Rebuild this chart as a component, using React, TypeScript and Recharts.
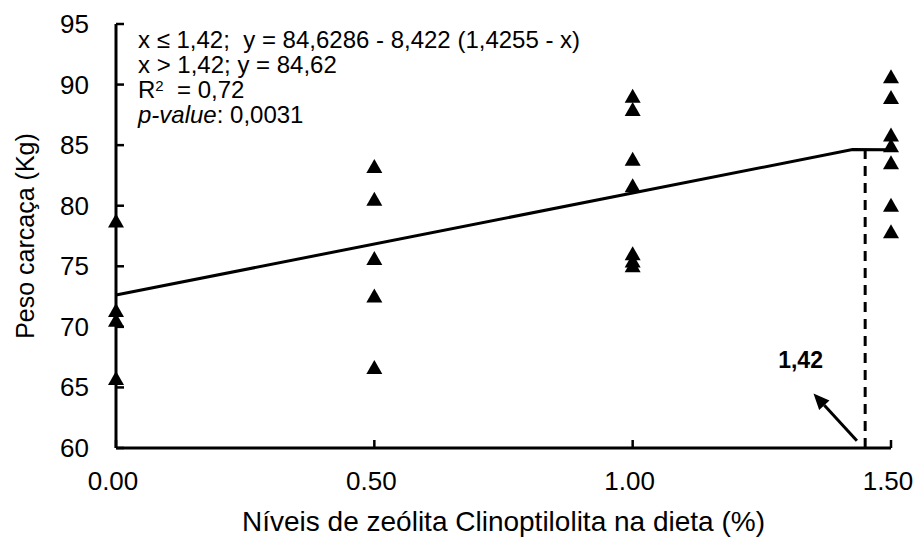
import React from 'react';
import {
  ComposedChart,
  Scatter,
  XAxis,
  YAxis,
  ReferenceLine,
  ReferenceDot,
} from 'recharts';

// níveis de zeólita (%) e pesos de carcaça observados (Kg)
const niveis = [0, 0.5, 1.0, 1.5];
const peso000 = [78.7, 71.3, 70.5, 65.7];
const peso050 = [83.2, 80.5, 75.6, 72.5, 66.6];
const peso100 = [89.0, 87.9, 83.8, 81.6, 76.0, 75.4, 75.0];
const peso150 = [90.6, 88.9, 85.8, 84.9, 83.5, 80.0, 77.8];

// modelo linear-plateau
const ajusteX = [0, 1.4255, 1.5];
const ajusteY = [72.63, 84.63, 84.62];

const corteX = 1.45;
const corteY = [60, 84.62];
const setaX = [1.434, 1.35];
const setaY = [60.6, 64.5];
const rotuloCorte = '1,42';
const rotuloX = 1.325;
const rotuloY = 67.3;

const xTicks = [0, 0.5, 1.0, 1.5];
const yTicks = [60, 65, 70, 75, 80, 85, 90, 95];

const pontos = [peso000, peso050, peso100, peso150].flatMap((vals, i) =>
  vals.map((y) => ({ x: niveis[i], y }))
);
const ajuste = ajusteX.map((x, i) => ({ x, y: ajusteY[i] }));

const FONT = '"Liberation Sans", Arial, sans-serif';

const YTick = ({ x, y, payload }: any) => (
  <g>
    <line x1={x} x2={x + 8} y1={y} y2={y} stroke="#000" strokeWidth={2.5} />
    <text x={x - 27} y={y} dy={9} textAnchor="end" fontSize={26} fill="#000" fontFamily={FONT}>
      {payload.value}
    </text>
  </g>
);

const XTick = ({ x, y, payload }: any) => (
  <g>
    <line x1={x} x2={x} y1={y} y2={y - 8} stroke="#000" strokeWidth={2.5} />
    <text x={x - 3} y={y + 42} textAnchor="middle" fontSize={26} fill="#000" fontFamily={FONT}>
      {Number(payload.value).toFixed(2)}
    </text>
  </g>
);

const Triangulo = ({ cx, cy }: any) => (
  <polygon points={`${cx},${cy - 8} ${cx - 8},${cy + 6} ${cx + 8},${cy + 6}`} fill="#000" />
);

const Seta = ({ x1, y1, x2, y2 }: any) => {
  const ang = Math.atan2(y2 - y1, x2 - x1);
  const len = 16;
  const half = 7;
  const bx = x2 - len * Math.cos(ang);
  const by = y2 - len * Math.sin(ang);
  const px = -Math.sin(ang) * half;
  const py = Math.cos(ang) * half;
  return (
    <g>
      <line x1={x1} y1={y1} x2={bx} y2={by} stroke="#000" strokeWidth={3} />
      <polygon points={`${x2},${y2} ${bx + px},${by + py} ${bx - px},${by - py}`} fill="#000" />
    </g>
  );
};

const Rotulo = ({ cx, cy }: any) => (
  <text x={cx} y={cy} dy={8} textAnchor="middle" fontSize={23} fontWeight="bold" fill="#000" fontFamily={FONT}>
    {rotuloCorte}
  </text>
);

export default function App() {
  return (
    <div style={{ position: 'absolute', left: 0, top: 0, width: 924, height: 540, background: '#fff', fontFamily: FONT }}>
      <ComposedChart width={924} height={540} margin={{ top: 24, right: 33, bottom: 0, left: 0 }}>
        <XAxis
          type="number"
          dataKey="x"
          domain={[0, 1.5]}
          ticks={xTicks}
          interval={0}
          height={92}
          tickSize={0}
          tickMargin={0}
          tickLine={false}
          tick={<XTick />}
          axisLine={{ stroke: '#000', strokeWidth: 3 }}
          label={{
            value: 'Níveis de zeólita Clinoptilolita na dieta (%)',
            position: 'insideBottom',
            offset: 9,
            fontSize: 28,
            fill: '#000',
            fontFamily: FONT,
          }}
        />
        <YAxis
          type="number"
          dataKey="y"
          domain={[60, 95]}
          ticks={yTicks}
          interval={0}
          width={116}
          tickSize={0}
          tickMargin={0}
          tickLine={false}
          tick={<YTick />}
          axisLine={{ stroke: '#000', strokeWidth: 3 }}
          label={{
            value: 'Peso carcaça (Kg)',
            angle: -90,
            position: 'insideLeft',
            offset: 25,
            style: { textAnchor: 'middle' },
            fontSize: 25,
            fill: '#000',
            fontFamily: FONT,
          }}
        />
        <ReferenceLine
          segment={[
            { x: corteX, y: corteY[0] },
            { x: corteX, y: corteY[1] },
          ]}
          stroke="#000"
          strokeWidth={3}
          strokeDasharray="10 7"
        />
        <ReferenceLine
          segment={[
            { x: setaX[0], y: setaY[0] },
            { x: setaX[1], y: setaY[1] },
          ]}
          shape={<Seta />}
        />
        <ReferenceDot x={rotuloX} y={rotuloY} r={0} shape={<Rotulo />} />
        <Scatter
          data={ajuste}
          line={{ stroke: '#000', strokeWidth: 3 }}
          shape={() => <g />}
          isAnimationActive={false}
        />
        <Scatter data={pontos} shape={<Triangulo />} fill="#000" isAnimationActive={false} />
      </ComposedChart>
      <div
        style={{
          position: 'absolute',
          left: 138,
          top: 27,
          fontSize: 24,
          lineHeight: '25px',
          color: '#000',
          whiteSpace: 'pre',
        }}
      >
        <div>x ≤ 1,42;  y = 84,6286 - 8,422 (1,4255 - x)</div>
        <div>x &gt; 1,42; y = 84,62</div>
        <div>
          R<sup style={{ fontSize: 15, verticalAlign: 'top', lineHeight: '18px' }}>2</sup>  = 0,72
        </div>
        <div>
          <i>p-value</i>: 0,0031
        </div>
      </div>
    </div>
  );
}
